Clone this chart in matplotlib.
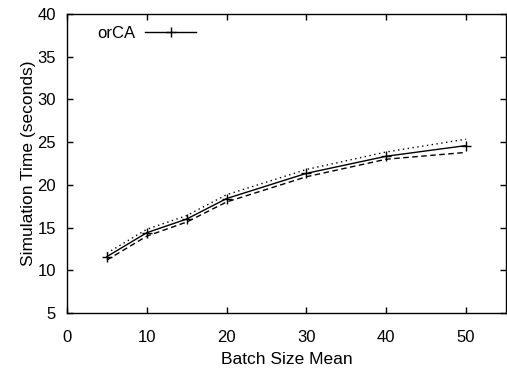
import matplotlib
matplotlib.use("Agg")
import matplotlib.pyplot as plt

plt.rcParams['font.family'] = ['Liberation Sans', 'DejaVu Sans']

batch = [5, 10, 15, 20, 30, 40, 50]
mean_time = [11.6, 14.4, 16.0, 18.4, 21.35, 23.35, 24.6]
upper_time = [12.0, 14.8, 16.4, 18.85, 21.8, 23.85, 25.35]
lower_time = [11.2, 14.0, 15.65, 18.0, 20.95, 23.0, 23.8]

xticks = [0, 10, 20, 30, 40, 50]
yticks = [5, 10, 15, 20, 25, 30, 35, 40]

fig = plt.figure(figsize=(5.07, 3.70), dpi=100)
ax = fig.add_axes([67/507, 1-313/370, 439/507, 299/370])

ax.plot(batch, upper_time, color='black', lw=1.0, ls=(0, (1, 2.5)))
ax.plot(batch, lower_time, color='black', lw=1.0, ls=(0, (4, 2.5)))
ax.plot(batch, mean_time, color='black', lw=1.0, marker='+', ms=7, mew=1.0, label='orCA')

ax.set_xlim(0, 55)
ax.set_ylim(5, 40)
ax.set_xticks(xticks)
ax.set_yticks(yticks)
ax.tick_params(direction='in', top=True, right=True, length=4, width=1, labelsize=12)
ax.tick_params(axis='x', pad=12)
ax.tick_params(axis='y', pad=8)
for s in ax.spines.values():
    s.set_linewidth(1.0)
ax.set_xlabel('Batch Size Mean', fontsize=12.5, labelpad=5)
ax.set_ylabel('Simulation Time (seconds)', fontsize=12.5, labelpad=1)

leg = ax.legend(loc='upper left', frameon=False, markerfirst=False, fontsize=12,
                handlelength=3.05, handletextpad=0.6, borderaxespad=0.3,
                bbox_to_anchor=(0.042, 1.0))

fig.savefig('out.png', dpi=100)
